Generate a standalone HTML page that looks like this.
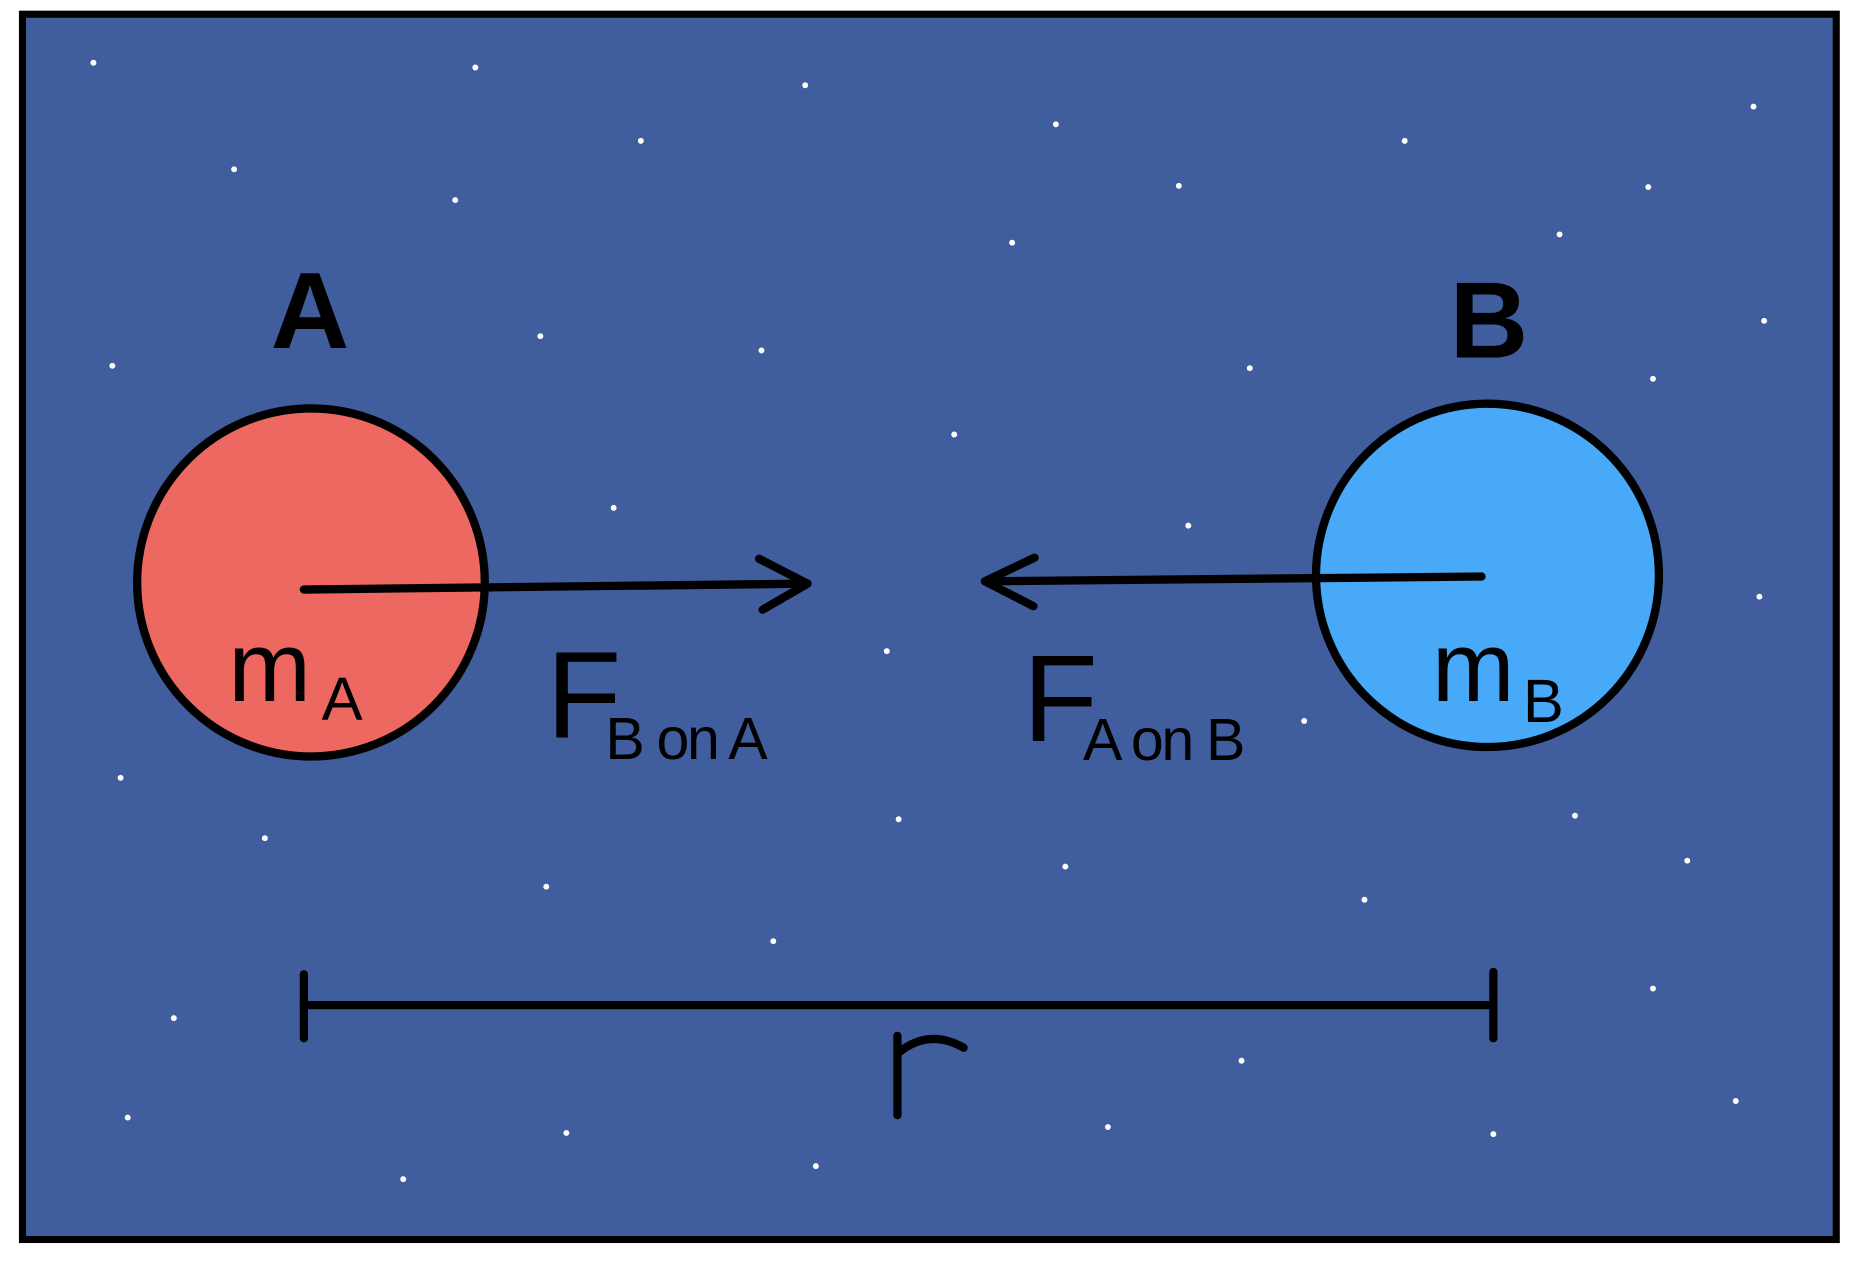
<!DOCTYPE html>
<html><head><style>html,body{margin:0;padding:0;background:#fff}svg{display:block}</style></head><body>
<svg width="1854" height="1262" viewBox="0 0 1568 1066" preserveAspectRatio="none" xmlns="http://www.w3.org/2000/svg">
<rect x="0" y="0" width="1568" height="1066" fill="#fff"/>
<rect x="19" y="12" width="1534" height="1035" fill="#405e9d" stroke="#000" stroke-width="6"/>
<g fill="#fff">
<circle cx="79" cy="53" r="2.5"/><circle cx="402" cy="57" r="2.5"/><circle cx="681" cy="72" r="2.5"/><circle cx="542" cy="119" r="2.5"/><circle cx="893" cy="105" r="2.5"/><circle cx="1188" cy="119" r="2.5"/><circle cx="1483" cy="90" r="2.5"/><circle cx="198" cy="143" r="2.5"/><circle cx="385" cy="169" r="2.5"/><circle cx="997" cy="157" r="2.5"/><circle cx="1394" cy="158" r="2.5"/><circle cx="856" cy="205" r="2.5"/><circle cx="1319" cy="198" r="2.5"/><circle cx="1492" cy="271" r="2.5"/><circle cx="95" cy="309" r="2.5"/><circle cx="457" cy="284" r="2.5"/><circle cx="644" cy="296" r="2.5"/><circle cx="1057" cy="311" r="2.5"/><circle cx="1398" cy="320" r="2.5"/><circle cx="807" cy="367" r="2.5"/><circle cx="519" cy="429" r="2.5"/><circle cx="1005" cy="444" r="2.5"/><circle cx="1488" cy="504" r="2.5"/><circle cx="750" cy="550" r="2.5"/><circle cx="1103" cy="609" r="2.5"/><circle cx="102" cy="657" r="2.5"/><circle cx="760" cy="692" r="2.5"/><circle cx="1332" cy="689" r="2.5"/><circle cx="224" cy="708" r="2.5"/><circle cx="901" cy="732" r="2.5"/><circle cx="1427" cy="727" r="2.5"/><circle cx="462" cy="749" r="2.5"/><circle cx="1154" cy="760" r="2.5"/><circle cx="654" cy="795" r="2.5"/><circle cx="1398" cy="835" r="2.5"/><circle cx="147" cy="860" r="2.5"/><circle cx="1050" cy="896" r="2.5"/><circle cx="108" cy="944" r="2.5"/><circle cx="1468" cy="930" r="2.5"/><circle cx="479" cy="957" r="2.5"/><circle cx="937" cy="952" r="2.5"/><circle cx="1263" cy="958" r="2.5"/><circle cx="690" cy="985" r="2.5"/><circle cx="341" cy="996" r="2.5"/>
</g>
<circle cx="263" cy="492" r="147" fill="#ec6861" stroke="#000" stroke-width="7"/>
<circle cx="1258" cy="486" r="145" fill="#48a9f8" stroke="#000" stroke-width="7"/>
<g stroke="#000" stroke-width="7" fill="none" stroke-linecap="round" stroke-linejoin="round">
<path d="M257 498 L683 493"/><path d="M642 472 L683 493 L645 515"/>
<path d="M1253 487 L833 491"/><path d="M875 471 L833 491 L874 512"/>
<path d="M257 823 V877"/><path d="M1263 821 V877"/><path d="M257 849 L1263 849"/>
<path d="M759 942 V875 M759 890 Q785 868 815 885"/>
</g>
<g font-family="Liberation Sans, sans-serif" fill="#000">
<text x="229" y="294" font-size="92" font-weight="bold">A</text>
<text x="1226" y="302" font-size="92" font-weight="bold">B</text>
<text x="193" y="592" font-size="84">m</text><text x="272" y="608" font-size="52">A</text>
<text x="1211" y="592" font-size="84">m</text><text x="1288" y="610" font-size="52">B</text>
<text x="462" y="623" font-size="104">F</text><text x="512" y="641" font-size="50" letter-spacing="-2">B on A</text>
<text x="865" y="626" font-size="104">F</text><text x="916" y="642" font-size="50" letter-spacing="-2">A on B</text>
</g>
</svg>
</body></html>
